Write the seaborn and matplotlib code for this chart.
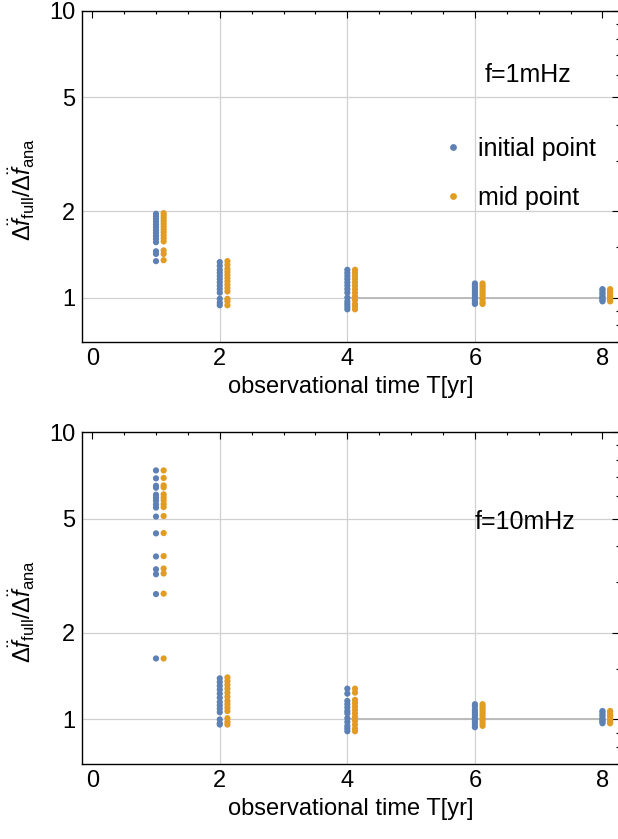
import numpy as np
import pandas as pd
import matplotlib
matplotlib.use("Agg")
import matplotlib.pyplot as plt
import seaborn as sns
from matplotlib.ticker import FixedLocator, FixedFormatter, NullFormatter, MultipleLocator


# observation times in years
T_YEARS = [1, 2, 4, 6, 8]

INIT_1MHZ = [
    [1.96, 1.92, 1.88, 1.84, 1.80, 1.76, 1.72, 1.68, 1.64, 1.60, 1.56, 1.45, 1.42, 1.34],
    [1.33, 1.29, 1.25, 1.22, 1.19, 1.16, 1.13, 1.10, 1.07, 1.04, 0.99, 0.96, 0.94],
    [1.25, 1.22, 1.19, 1.16, 1.13, 1.10, 1.07, 1.04, 1.00, 0.97, 0.95, 0.93, 0.91],
    [1.12, 1.10, 1.08, 1.06, 1.04, 1.02, 1.00, 0.98, 0.96, 0.95],
    [1.07, 1.06, 1.04, 1.03, 1.01, 1.00, 0.99, 0.98, 0.97],
]
MID_1MHZ = [
    [1.97, 1.93, 1.89, 1.85, 1.81, 1.77, 1.73, 1.69, 1.65, 1.61, 1.57, 1.46, 1.42, 1.35],
    [1.34, 1.30, 1.26, 1.23, 1.20, 1.17, 1.14, 1.11, 1.08, 1.05, 0.99, 0.97, 0.94],
    [1.25, 1.22, 1.19, 1.16, 1.13, 1.10, 1.07, 1.04, 1.01, 0.98, 0.95, 0.93, 0.91],
    [1.12, 1.10, 1.08, 1.06, 1.04, 1.02, 1.00, 0.98, 0.96, 0.95],
    [1.07, 1.05, 1.04, 1.02, 1.01, 1.00, 0.99, 0.98, 0.97],
]
INIT_10MHZ = [
    [7.35, 6.90, 6.50, 6.40, 6.05, 5.90, 5.77, 5.60, 5.46, 5.08, 4.44, 3.69, 3.33, 3.20, 2.73, 1.63],
    [1.39, 1.35, 1.31, 1.27, 1.23, 1.19, 1.15, 1.12, 1.09, 1.06, 1.00, 0.97, 0.96],
    [1.28, 1.23, 1.16, 1.13, 1.10, 1.07, 1.05, 1.01, 0.98, 0.95, 0.93, 0.91],
    [1.13, 1.11, 1.08, 1.06, 1.04, 1.02, 1.00, 0.98, 0.96, 0.94],
    [1.07, 1.06, 1.04, 1.03, 1.01, 1.00, 0.99, 0.98, 0.97],
]
MID_10MHZ = [
    [7.35, 6.92, 6.52, 6.42, 6.07, 5.92, 5.79, 5.62, 5.48, 5.10, 4.45, 3.70, 3.35, 3.22, 2.74, 1.63],
    [1.40, 1.36, 1.32, 1.28, 1.24, 1.20, 1.16, 1.13, 1.10, 1.07, 1.01, 0.98, 0.96],
    [1.28, 1.24, 1.17, 1.14, 1.11, 1.08, 1.05, 1.02, 0.99, 0.96, 0.93, 0.91],
    [1.13, 1.11, 1.09, 1.07, 1.05, 1.03, 1.01, 0.99, 0.97, 0.95],
    [1.07, 1.06, 1.04, 1.03, 1.02, 1.00, 0.99, 0.98, 0.97],
]

PANEL_LABELS = ["f=1mHz", "f=10mHz"]
SERIES_LABELS = ["initial point", "mid point"]

BLUE = "#5e81b5"
ORANGE = "#e19c24"
GRID = "#d0d0d0"
FS = 17


def build_frame(init_vals, mid_vals):
    # long-form table, mid points nudged to the right like in the original
    rows = []
    for t, a, b in zip(T_YEARS, init_vals, mid_vals):
        for v in a:
            rows.append({"x": t, "ratio": v, "kind": SERIES_LABELS[0]})
        for v in b:
            rows.append({"x": t + 0.12, "ratio": v, "kind": SERIES_LABELS[1]})
    return pd.DataFrame(rows)


def style_axes(ax):
    ax.set_yscale("log")
    ax.set_xlim(-0.16, 8.26)
    ax.set_ylim(0.7, 10)
    ax.yaxis.set_major_locator(FixedLocator([1, 2, 5, 10]))
    ax.yaxis.set_major_formatter(FixedFormatter(["1", "2", "5", "10"]))
    ax.yaxis.set_minor_locator(FixedLocator([0.7, 0.8, 0.9, 1.5, 3, 4, 6, 7, 8, 9]))
    ax.yaxis.set_minor_formatter(NullFormatter())
    ax.xaxis.set_major_locator(MultipleLocator(2))
    ax.xaxis.set_minor_locator(MultipleLocator(0.5))
    ax.tick_params(which="both", direction="in", top=True, right=True,
                   labelsize=FS, colors="black")
    ax.tick_params(which="major", length=5, width=0.8)
    ax.tick_params(which="minor", length=2.5, width=0.8)
    ax.tick_params(axis="x", pad=4)
    ax.tick_params(axis="y", pad=5)
    for s in ax.spines.values():
        s.set_linewidth(1.0)
        s.set_color("black")
    # grid lines only at the inner ticks
    for gx in [2, 4, 6]:
        ax.axvline(gx, color=GRID, lw=0.9, zorder=0)
    for gy in [1, 2, 5]:
        ax.axhline(gy, color=GRID, lw=0.9, zorder=0)
    ax.hlines(1, T_YEARS[2], T_YEARS[-1], color="#bbbbbb", lw=1.4, zorder=0)
    ax.set_xlabel("observational time T[yr]", fontsize=FS, labelpad=5)
    ax.set_ylabel(r"$\Delta\ddot{f}_{\rm full}/\Delta\ddot{f}_{\rm ana}$",
                  fontsize=FS)
    ax.yaxis.set_label_coords(-0.083, 0.46)


sns.set_theme(style="white")
plt.rcParams["font.family"] = ["Liberation Sans", "DejaVu Sans"]
plt.rcParams["mathtext.fontset"] = "custom"
plt.rcParams["mathtext.rm"] = "Liberation Sans"
plt.rcParams["mathtext.it"] = "Liberation Sans:italic"
plt.rcParams["text.color"] = "black"
plt.rcParams["axes.labelcolor"] = "black"

fig = plt.figure(figsize=(6.18, 8.39), dpi=100)
ax1 = fig.add_axes([0.1327, 0.5924, 0.869, 0.3946])
ax2 = fig.add_axes([0.1327, 0.0894, 0.869, 0.3957])

panels = [(ax1, INIT_1MHZ, MID_1MHZ), (ax2, INIT_10MHZ, MID_10MHZ)]
for i, (ax, a, b) in enumerate(panels):
    df = build_frame(a, b)
    sns.scatterplot(
        data=df, x="x", y="ratio", hue="kind",
        hue_order=SERIES_LABELS,
        palette={SERIES_LABELS[0]: BLUE, SERIES_LABELS[1]: ORANGE},
        s=20, linewidth=0, ax=ax, legend=(i == 0), zorder=3,
    )
    style_axes(ax)

ax1.text(0.83, 0.807, PANEL_LABELS[0], transform=ax1.transAxes,
         ha="center", va="center", fontsize=FS + 1)
ax2.text(0.825, 0.729, PANEL_LABELS[1], transform=ax2.transAxes,
         ha="center", va="center", fontsize=FS + 1)

leg = ax1.legend(loc="center left", bbox_to_anchor=(0.635, 0.51), frameon=False,
                 fontsize=FS + 1, handlelength=0.6, handletextpad=0.7,
                 labelspacing=1.0, markerscale=1.1)

fig.savefig("out.png", dpi=100)
